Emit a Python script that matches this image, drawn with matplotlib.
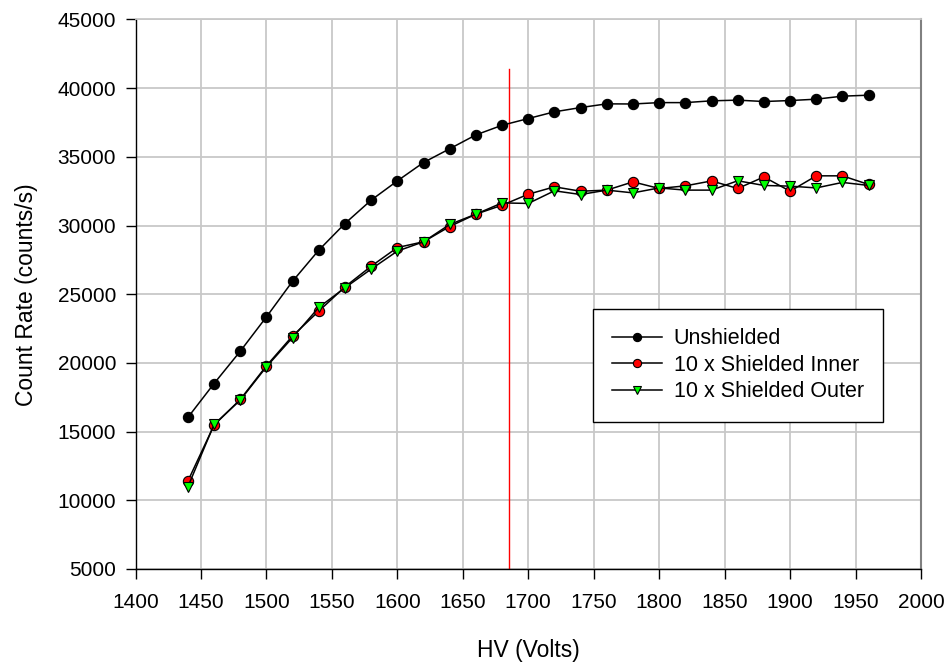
import matplotlib
matplotlib.use("Agg")
import matplotlib.pyplot as plt

plt.rcParams['font.family'] = ['Liberation Sans', 'DejaVu Sans']

hv = [1440, 1460, 1480, 1500, 1520, 1540, 1560, 1580, 1600, 1620, 1640, 1660, 1680,
      1700, 1720, 1740, 1760, 1780, 1800, 1820, 1840, 1860, 1880, 1900, 1920, 1940, 1960]

unshielded = [16030, 18500, 20850, 23350, 25950, 28210, 30150, 31850, 33250, 34590, 35590,
              36600, 37300, 37790, 38280, 38590, 38860, 38850, 38950, 38950, 39080, 39130,
              39030, 39100, 39200, 39420, 39490]

shielded_inner = [11400, 15470, 17340, 19790, 21970, 23770, 25540, 27040, 28400, 28820, 29930,
                  30830, 31480, 32280, 32820, 32500, 32580, 33180, 32700, 32890, 33250, 32700,
                  33540, 32500, 33620, 33620, 32990]

shielded_outer = [10980, 15520, 17290, 19720, 21850, 24040, 25470, 26830, 28140, 28820, 30080,
                  30830, 31650, 31610, 32530, 32260, 32580, 32380, 32740, 32580, 32580, 33260,
                  32920, 32870, 32740, 33140, 32920]

labels = ["Unshielded", "10 x Shielded Inner", "10 x Shielded Outer"]

marker_line_x = 1685
marker_line_top = 41400

xticks = list(range(1400, 2001, 50))
yticks = list(range(5000, 45001, 5000))

fig = plt.figure(figsize=(9.49, 6.63), dpi=100)
ax = fig.add_axes([135.5 / 949, 1 - 569 / 663, (921 - 135.5) / 949, (569 - 19.5) / 663])

ax.plot(hv, unshielded, color='black', lw=1.1, marker='o', ms=7.4,
        mfc='black', mec='black', mew=0.8, label=labels[0], zorder=3)
ax.plot(hv, shielded_inner, color='black', lw=1.1, marker='o', ms=7.4,
        mfc='#ff0000', mec='black', mew=0.8, label=labels[1], zorder=3)
ax.plot(hv, shielded_outer, color='black', lw=1.1, marker='v', ms=7.4,
        mfc='#00ff00', mec='black', mew=0.8, label=labels[2], zorder=4)

ax.plot([marker_line_x, marker_line_x], [5000, marker_line_top], color='#ff0000', lw=1.0, zorder=2)

ax.set_xlim(1400, 2000)
ax.set_ylim(5000, 45000)
ax.set_xticks(xticks)
ax.set_yticks(yticks)
ax.grid(True, color='#c8c8c8', lw=1.3, zorder=0)
ax.set_axisbelow(True)

ax.tick_params(axis='both', direction='out', length=7, width=1, labelsize=15, colors='black')
ax.tick_params(axis='x', pad=10)
ax.tick_params(axis='y', pad=7)

for s in ['left', 'bottom']:
    ax.spines[s].set_color('black')
    ax.spines[s].set_linewidth(1.0)
ax.spines['top'].set_color('#c8c8c8')
ax.spines['top'].set_linewidth(1.3)
ax.spines['right'].set_color('#808080')
ax.spines['right'].set_linewidth(1.5)

ax.set_xlabel("HV (Volts)", fontsize=16.5, labelpad=20)
ax.set_ylabel("Count Rate (counts/s)", fontsize=16.5, labelpad=14)

leg = ax.legend(loc='upper left', bbox_to_anchor=((593 - 135.5) / (921 - 135.5), (569 - 309) / 549.5),
                borderaxespad=0, fontsize=15.5, frameon=True, fancybox=False, shadow=False,
                handlelength=2.3, handletextpad=0.55, labelspacing=0.25, borderpad=0.9,
                markerscale=0.8)
leg.get_frame().set_edgecolor('black')
leg.get_frame().set_linewidth(1.0)
leg.get_frame().set_alpha(1)

fig.savefig("out.png", dpi=100)
